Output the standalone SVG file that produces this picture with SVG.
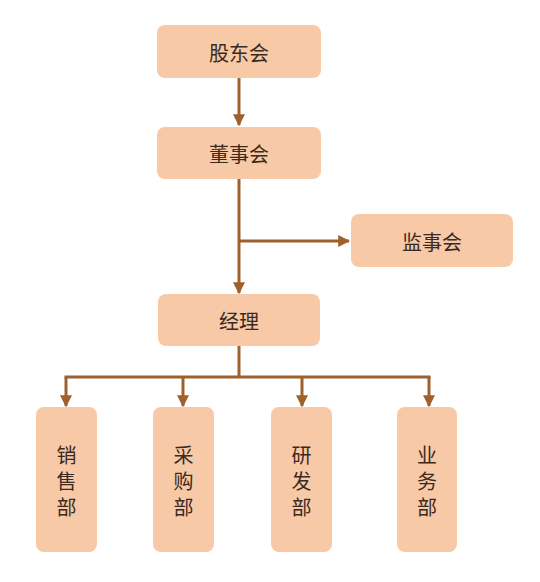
<svg xmlns="http://www.w3.org/2000/svg" width="540" height="582" viewBox="0 0 540 582">
<style>
.box{fill:#F8C9A6;}
.t{font-family:"Noto Sans CJK SC","Noto Sans",sans-serif;font-size:20px;fill:#3a2a22;text-anchor:middle;dominant-baseline:central;}
.v{font-family:"Noto Sans CJK SC","Noto Sans",sans-serif;font-size:20px;fill:#3a2a22;text-anchor:middle;writing-mode:vertical-rl;letter-spacing:6px;}
.ln{stroke:#A0602C;stroke-width:3;fill:none;}
</style>
<defs>
<marker id="ah" viewBox="0 0 10 10" refX="9" refY="5" markerWidth="4" markerHeight="4" orient="auto" markerUnits="strokeWidth">
<path d="M0,0 L10,5 L0,10 z" fill="#A0602C"/>
</marker>
</defs>
<rect width="540" height="582" fill="#ffffff"/>
<g id="connectors">
<line class="ln" x1="239" y1="78" x2="239" y2="125" marker-end="url(#ah)"/>
<line class="ln" x1="239" y1="179" x2="239" y2="293" marker-end="url(#ah)"/>
<line class="ln" x1="239" y1="241" x2="349" y2="241" marker-end="url(#ah)"/>
<line class="ln" x1="239" y1="346" x2="239" y2="377"/>
<line class="ln" x1="64.5" y1="377" x2="430.5" y2="377"/>
<line class="ln" x1="66" y1="377" x2="66" y2="406" marker-end="url(#ah)"/>
<line class="ln" x1="183" y1="377" x2="183" y2="406" marker-end="url(#ah)"/>
<line class="ln" x1="302" y1="377" x2="302" y2="406" marker-end="url(#ah)"/>
<line class="ln" x1="429" y1="377" x2="429" y2="406" marker-end="url(#ah)"/>
</g>
<g id="gudonghui">
<rect class="box" x="157" y="25" width="164" height="53" rx="8"/>
<text class="t" x="239" y="52">股东会</text>
</g>
<g id="dongshihui">
<rect class="box" x="157" y="127" width="164" height="52" rx="8"/>
<text class="t" x="239" y="153">董事会</text>
</g>
<g id="jianshihui">
<rect class="box" x="351" y="214" width="162" height="53" rx="8"/>
<text class="t" x="432" y="241">监事会</text>
</g>
<g id="jingli">
<rect class="box" x="158" y="294" width="162" height="52" rx="8"/>
<text class="t" x="239" y="320">经理</text>
</g>
<g id="xiaoshoubu">
<rect class="box" x="36" y="407" width="61" height="145" rx="8"/>
<text class="v" x="66.5" y="484">销售部</text>
</g>
<g id="caigoubu">
<rect class="box" x="153" y="407" width="61" height="145" rx="8"/>
<text class="v" x="183.5" y="484">采购部</text>
</g>
<g id="yanfabu">
<rect class="box" x="271" y="407" width="61" height="145" rx="8"/>
<text class="v" x="301.5" y="484">研发部</text>
</g>
<g id="yewubu">
<rect class="box" x="397" y="407" width="60" height="145" rx="8"/>
<text class="v" x="427" y="484">业务部</text>
</g>
</svg>
